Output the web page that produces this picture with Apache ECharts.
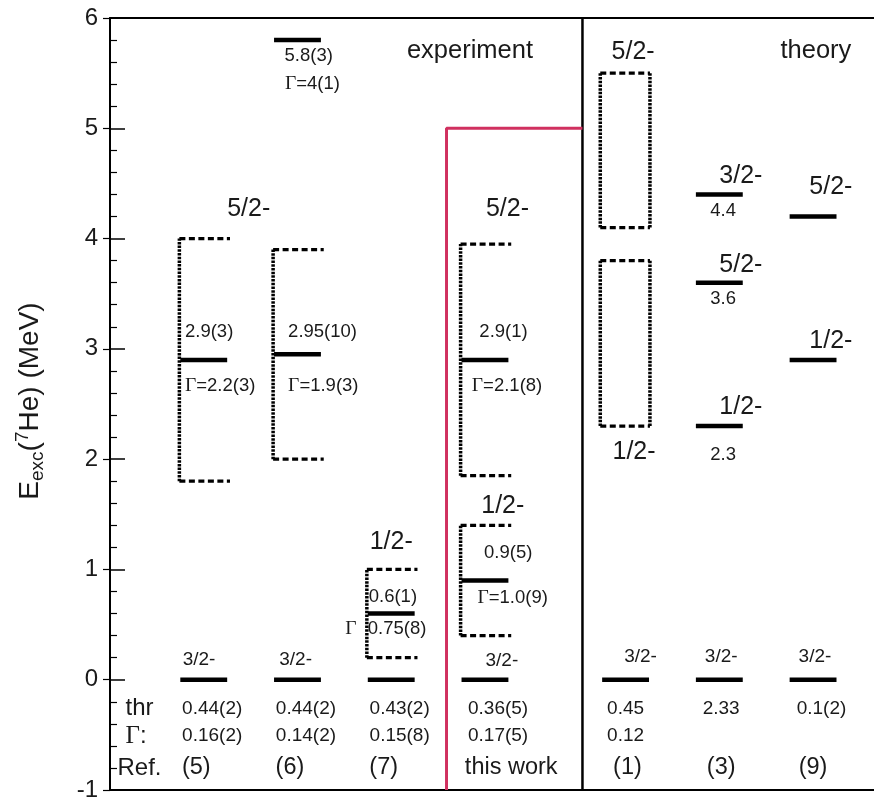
<!DOCTYPE html>
<html>
<head>
<meta charset="utf-8">
<script src="https://cdn.jsdelivr.net/npm/echarts@6/dist/echarts.min.js"></script>
<style>html,body{margin:0;padding:0;background:#fff}#c{width:874px;height:802px}</style>
</head>
<body>
<div id="c"></div>
<script>
// ---------------- DATA ----------------
const columns = ['(5)', '(6)', '(7)', 'this work', '(1)', '(3)', '(9)'];
const thrValues = ['0.44(2)', '0.44(2)', '0.43(2)', '0.36(5)', '0.45', '2.33', '0.1(2)'];
const gammaValues = ['0.16(2)', '0.14(2)', '0.15(8)', '0.17(5)', '0.12', '', ''];
// solid levels: [column index, energy (MeV)]
const levels = [
  [0, 0], [1, 0], [2, 0], [3, 0], [4, 0], [5, 0], [6, 0],
  [0, 2.9], [1, 2.95], [1, 5.8], [2, 0.6], [3, 2.9], [3, 0.9],
  [5, 4.4], [5, 3.6], [5, 2.3], [6, 4.2], [6, 2.9]
];
// experimental widths: [column index, low, high]
const widths = [[0, 1.8, 4.0], [1, 2.0, 3.9], [2, 0.2, 1.0], [3, 1.85, 3.95], [3, 0.4, 1.4]];
// theoretical ranges: [column index, low, high]
const ranges = [[4, 4.1, 5.5], [4, 2.3, 3.8]];
// spin labels
const spinText = ['5/2-', '1/2-', '5/2-', '1/2-', '5/2-', '1/2-', '3/2-', '5/2-', '1/2-', '5/2-', '1/2-'];
const spinCol = [0, 2, 3, 3, 4, 4, 5, 5, 5, 6, 6];
const groundSpin = ['3/2-', '3/2-', '', '3/2-', '3/2-', '3/2-', '3/2-'];
// energy / width annotations
const noteText = ['5.8(3)', '{g|Γ}=4(1)', '2.9(3)', '{g|Γ}=2.2(3)', '2.95(10)', '{g|Γ}=1.9(3)',
  '0.6(1)', '{g|Γ}', '0.75(8)', '2.9(1)', '{g|Γ}=2.1(8)', '0.9(5)', '{g|Γ}=1.0(9)', '4.4', '3.6', '2.3'];
const noteCol = [1, 1, 0, 0, 1, 1, 2, 2, 2, 3, 3, 3, 3, 5, 5, 5];
const yTicks = [-1, 0, 1, 2, 3, 4, 5, 6];

// ---------------- LAYOUT ----------------
const colPos = [1, 2, 3, 4, 5.5, 6.5, 7.5];
const spinPos = [[0.48, 4.27], [0, 1.25], [0.24, 4.27], [0.19, 1.57], [0.08, 5.69], [0.09, 2.06],
  [0.23, 4.57], [0.23, 3.76], [0.23, 2.47], [0.19, 4.47], [0.19, 3.07]];
const groundDx = [-0.05, -0.02, 0, 0.18, 0.16, 0.02, 0.02];
const groundY = [0.18, 0.18, 0, 0.17, 0.21, 0.21, 0.21];
const notePos = [[0.12, 5.66, 'c'], [0.16, 5.40, 'c'], [-0.2, 3.15, 'l'], [-0.2, 2.66, 'l'],
  [-0.10, 3.15, 'l'], [-0.10, 2.66, 'l'], [-0.24, 0.75, 'l'], [-0.43, 0.46, 'c'], [-0.25, 0.46, 'l'],
  [-0.06, 3.15, 'l'], [-0.14, 2.66, 'l'], [-0.01, 1.15, 'l'], [-0.08, 0.74, 'l'],
  [0.04, 4.25, 'c'], [0.04, 3.45, 'c'], [0.04, 2.04, 'c']];
const rowDx = [0.09, 0.09, 0.09, 0.14, 0, 0.02, 0.09];
const refDx = [-0.08, -0.08, -0.08, 0.28, 0.02, 0.02, 0];
const ROW_THR = -0.26, ROW_G = -0.51, ROW_REF = -0.80;
const XMAX = 8.15;
const PINK = '#d0305f';
const TXT = '#1a1a1a';
const SANS = '"Liberation Sans", Arial, Helvetica, sans-serif';
const SERIF = '"Liberation Serif", "Times New Roman", serif';

// ---------------- TEXT ITEMS ----------------
const texts = [];
spinText.forEach((t, i) => texts.push({x: colPos[spinCol[i]] + spinPos[i][0], y: spinPos[i][1], text: t, size: 25, align: 'center'}));
groundSpin.forEach((t, i) => { if (t) texts.push({x: colPos[i] + groundDx[i], y: groundY[i], text: t, size: 19, align: 'center'}); });
noteText.forEach((t, i) => texts.push({x: colPos[noteCol[i]] + notePos[i][0], y: notePos[i][1], text: t, size: 18.5, align: notePos[i][2] === 'l' ? 'left' : 'center'}));
thrValues.forEach((t, i) => texts.push({x: colPos[i] + rowDx[i], y: ROW_THR, text: t, size: 19, align: 'center'}));
gammaValues.forEach((t, i) => { if (t) texts.push({x: colPos[i] + rowDx[i], y: ROW_G, text: t, size: 19, align: 'center'}); });
columns.forEach((t, i) => texts.push({x: colPos[i] + refDx[i], y: ROW_REF, text: t, size: 23.5, align: 'center'}));
texts.push({x: 0.165, y: ROW_THR, text: 'thr', size: 24, align: 'left'});
texts.push({x: 0.165, y: ROW_G, text: '{g|Γ}:', size: 24, align: 'left', gsize: 25});
texts.push({x: 0.08, y: ROW_REF, text: 'Ref.', size: 24, align: 'left'});
texts.push({x: 3.84, y: 5.70, text: 'experiment', size: 25.5, align: 'center'});
texts.push({x: 7.53, y: 5.70, text: 'theory', size: 25.5, align: 'center'});

function lineEl(p1, p2, w, dash) {
  return {type: 'line', shape: {x1: p1[0], y1: p1[1], x2: p2[0], y2: p2[1]},
    style: {stroke: '#000', lineWidth: w, lineDash: dash || null}};
}
const DASH = [6, 3.5], DOT = [2.5, 1.2];

const chart = echarts.init(document.getElementById('c'), null, {renderer: 'canvas'});
chart.setOption({
  backgroundColor: '#fff',
  animation: false,
  grid: {left: 110, top: 18, right: -2, bottom: 8, containLabel: false},
  xAxis: [
    {type: 'value', min: 0, max: XMAX, position: 'bottom', axisLine: {show: true, onZero: false, lineStyle: {color: '#000', width: 2}},
      axisTick: {show: false}, axisLabel: {show: false}, splitLine: {show: false}},
    {type: 'value', min: 0, max: XMAX, position: 'top', axisLine: {show: true, onZero: false, lineStyle: {color: '#000', width: 2}},
      axisTick: {show: false}, axisLabel: {show: false}, splitLine: {show: false}}
  ],
  yAxis: [
    {type: 'value', min: -1, max: 6, interval: 1, position: 'left',
      axisLine: {show: true, onZero: false, lineStyle: {color: '#000', width: 2}},
      axisTick: {show: true, inside: true, length: 15, lineStyle: {color: '#000', width: 1.5}},
      minorTick: {show: true, splitNumber: 5, length: 7, lineStyle: {color: '#000', width: 1.2}},
      axisLabel: {fontSize: 24, color: TXT, fontFamily: SANS, margin: 12,
        formatter: v => (yTicks.indexOf(v) >= 0 ? String(v) : '')},
      splitLine: {show: false}},
    {type: 'value', min: -1, max: 6, interval: 1, position: 'right',
      axisLine: {show: false}, axisTick: {show: true, inside: true, length: 7, lineStyle: {color: '#000', width: 1.2}},
      axisLabel: {show: false}, splitLine: {show: false}}
  ],
  graphic: [{
    type: 'text', x: 30, y: 401, rotation: Math.PI / 2,
    style: {
      text: '{n|E}{sub|exc}{n|(}{sup|7}{n|He) (MeV)}',
      align: 'center', verticalAlign: 'middle', fill: TXT,
      rich: {
        n: {fontSize: 28, fontFamily: SANS, lineHeight: 40, fill: TXT},
        sub: {fontSize: 19, fontFamily: SANS, lineHeight: 19, verticalAlign: 'bottom', padding: [0, 0, 3, 0], fill: TXT},
        sup: {fontSize: 19, fontFamily: SANS, lineHeight: 19, verticalAlign: 'top', padding: [3, 0, 0, 0], fill: TXT}
      }
    }
  }],
  series: [
    {
      type: 'line', data: [[5.04, -1], [5.04, 6]], symbol: 'none', silent: true,
      lineStyle: {color: '#000', width: 2.5}, z: 1
    },
    {
      type: 'line', data: [[3.59, -1], [3.59, 5], [5.04, 5]], symbol: 'none', silent: true,
      lineStyle: {color: PINK, width: 3}, z: 2
    },
    {
      type: 'custom', data: levels.map(l => [colPos[l[0]], l[1]]), z: 5,
      renderItem: (params, api) => {
        const x = api.value(0), e = api.value(1);
        return lineEl(api.coord([x - 0.25, e]), api.coord([x + 0.25, e]), 4.5);
      }
    },
    {
      type: 'custom', data: widths.map(w => [colPos[w[0]], w[1], w[2]]), z: 4,
      renderItem: (params, api) => {
        const x = api.value(0), lo = api.value(1), hi = api.value(2);
        return {type: 'group', children: [
          lineEl(api.coord([x - 0.26, hi]), api.coord([x + 0.28, hi]), 3.2, DASH),
          lineEl(api.coord([x - 0.26, lo]), api.coord([x + 0.28, lo]), 3.2, DASH),
          lineEl(api.coord([x - 0.26, lo]), api.coord([x - 0.26, hi]), 3.5, DOT)
        ]};
      }
    },
    {
      type: 'custom', data: ranges.map(w => [colPos[w[0]], w[1], w[2]]), z: 4,
      renderItem: (params, api) => {
        const x = api.value(0), lo = api.value(1), hi = api.value(2);
        return {type: 'group', children: [
          lineEl(api.coord([x - 0.27, hi]), api.coord([x + 0.26, hi]), 3.2, DASH),
          lineEl(api.coord([x - 0.27, lo]), api.coord([x + 0.26, lo]), 3.2, DASH),
          lineEl(api.coord([x - 0.27, lo]), api.coord([x - 0.27, hi]), 3.5, DOT),
          lineEl(api.coord([x + 0.26, lo]), api.coord([x + 0.26, hi]), 3.5, DOT)
        ]};
      }
    },
    {
      type: 'custom', data: texts.map(t => [t.x, t.y]), z: 10,
      renderItem: (params, api) => {
        const t = texts[params.dataIndex];
        const p = api.coord([api.value(0), api.value(1)]);
        return {type: 'text', x: p[0], y: p[1], style: {
          text: t.text, fill: TXT, fontSize: t.size, fontFamily: SANS,
          align: t.align, verticalAlign: 'middle',
          rich: {g: {fontSize: t.gsize || t.size + 1, fontFamily: SERIF, fill: TXT}}
        }};
      }
    }
  ]
});
</script>
</body>
</html>
